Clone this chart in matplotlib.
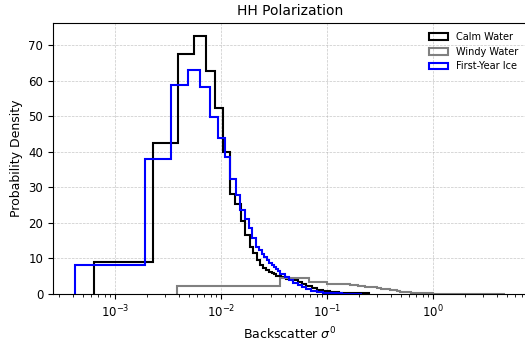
import numpy as np
import matplotlib.pyplot as plt

# series names and colours
labels = ["Calm Water", "Windy Water", "First-Year Ice"]
colors = ["black", "gray", "blue"]

# Calm Water: linear bins (start, width) then coarser tail
calm_lo, calm_width = 0.00063, 0.00164
calm_density = [8.9, 42.5, 67.5, 72.6, 62.6, 52.4, 40.0, 28.0, 25.2, 20.4, 16.6,
                13.3, 11.5, 9.6, 8.2, 7.4, 6.8, 6.3, 6.0, 5.6, 5.2, 5.0]
calm_tail_edges = [0.041, 0.047, 0.053, 0.058, 0.064, 0.072, 0.081, 0.092,
                   0.108, 0.13, 0.16, 0.20, 0.249]
calm_tail_density = [4.7, 4.3, 3.9, 3.4, 2.8, 2.2, 1.6, 1.2, 0.8, 0.55, 0.4,
                     0.25, 0.15]

# Windy Water
windy_lo, windy_width = 0.00388, 0.0323
windy_density = [2.3, 4.4, 3.4, 2.9, 2.7, 2.5, 2.3, 2.1, 1.9, 1.7, 1.5, 1.3,
                 1.1, 1.0, 0.85, 0.7, 0.6, 0.5, 0.45, 0.4]
windy_tail_edges = [0.8, 1.0, 1.5, 2.5, 4.85]
windy_tail_density = [0.3, 0.2, 0.12, 0.06, 0.03]

# First-Year Ice
ice_lo, ice_width = 0.000417, 0.00149
ice_density = [8.2, 37.9, 58.7, 63.0, 58.1, 49.7, 43.9, 38.6, 32.3, 27.9, 23.5,
               21.0, 18.5, 15.7, 13.3, 12.4, 11.3, 10.3, 9.6, 8.6, 8.2, 7.6,
               7.1, 6.6]
ice_tail_edges = [0.040, 0.044, 0.048, 0.053, 0.058, 0.064, 0.071, 0.080,
                  0.092, 0.11, 0.14, 0.216]
ice_tail_density = [5.6, 4.7, 3.9, 3.1, 2.5, 1.9, 1.4, 0.95, 0.6, 0.35, 0.2, 0.1]


def make_edges(lo, width, n, tail):
    return np.concatenate([lo + width * np.arange(n + 1), tail])


series = [
    (make_edges(calm_lo, calm_width, len(calm_density), calm_tail_edges),
     calm_density + calm_tail_density),
    (make_edges(windy_lo, windy_width, len(windy_density), windy_tail_edges),
     windy_density + windy_tail_density),
    (make_edges(ice_lo, ice_width, len(ice_density), ice_tail_edges),
     ice_density + ice_tail_density),
]

fig = plt.figure(figsize=(5.25, 3.46), dpi=100)
ax = fig.add_axes([53 / 525, 52 / 346, 474 / 525, 271 / 346])

for (edges, dens), name, color in zip(series, labels, colors):
    # one sample per bin, weighted by the bin's density
    ax.hist(edges[:-1], bins=edges, weights=dens, histtype="step",
            color=color, lw=1.5, label=name)

ax.set_xscale("log")
ax.set_ylim(bottom=0)
ax.set_xlabel(r"Backscatter $\sigma^0$", fontsize=9)
ax.set_ylabel("Probability Density", fontsize=9)
ax.set_title("HH Polarization", fontsize=10)
ax.tick_params(labelsize=8.5)
ax.grid(True, which="major", ls="--", lw=0.5, alpha=0.7)
ax.legend(loc="upper right", fontsize=7, frameon=False)

fig.savefig("out.png")
